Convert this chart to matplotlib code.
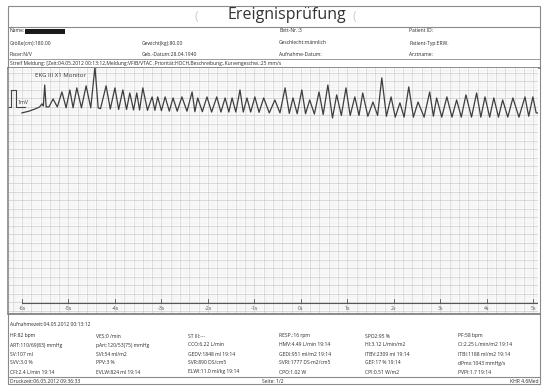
import numpy as np
import matplotlib
matplotlib.use('Agg')
import matplotlib.pyplot as plt
from matplotlib.patches import Rectangle

plt.rcParams['font.family'] = ['Open Sans', 'DejaVu Sans']

# header fields (label, value)
header_col1 = ['Name:', 'Größe(cm):180.00', 'Pacer:N/V']
header_col2 = ['', 'Gewicht(kg):80.00', 'Geb.-Datum:28.04.1940']
header_col3 = ['Bett-Nr.:3', 'Geschlecht:männlich', 'Aufnahme-Datum:']
header_col4 = ['Patient ID:', 'Patient-Typ:ERW.', 'Arztname:']
strip_text = ('Streif Meldung: [Zeit:04.05.2012 00:13:12,Meldung:VFIB/VTAC ,Priorität:HOCH,'
              'Beschreibung:,Kurvengeschw.:25 mm/s')

# calibration pulse (s, mV)
cal_t = [-6.30, -6.24, -6.24, -6.13, -6.13, -5.94]
cal_mv = [0, 0, 1, 1, 0, 0]

# ECG lead III trace, vertices (s, mV)
ecg_t = [-6.00, -5.85, -5.72, -5.62, -5.57, -5.54, -5.51, -5.48, -5.42,
         -5.33, -5.24, -5.14, -5.05, -4.97, -4.90, -4.82, -4.72, -4.62, -4.52,
         -4.43, -4.36, -4.31, -4.19, -4.10, -4.00, -3.92, -3.83, -3.75, -3.68,
         -3.60, -3.53, -3.47, -3.40, -3.30, -3.20, -3.14, -3.08, -3.00, -2.92,
         -2.83, -2.75, -2.66, -2.56, -2.45, -2.34, -2.28, -2.22, -2.12, -2.02,
         -1.92, -1.81, -1.72, -1.63, -1.55, -1.48, -1.40, -1.31, -1.24, -1.16,
         -1.08, -0.99, -0.90, -0.80, -0.68, -0.56, -0.45, -0.34, -0.25, -0.17,
         -0.08, 0.02, 0.10, 0.19, 0.29, 0.39, 0.48, 0.58, 0.68, 0.77,
         0.87, 0.97, 1.06, 1.16, 1.25, 1.33, 1.44, 1.55, 1.65, 1.74,
         1.84, 1.94, 2.03, 2.13, 2.22, 2.32, 2.42, 2.52, 2.65, 2.77,
         2.85, 2.92, 3.03, 3.14, 3.25, 3.35, 3.45, 3.55, 3.67, 3.78,
         3.87, 3.96, 4.06, 4.15, 4.25, 4.34, 4.45, 4.56, 4.69, 4.82,
         4.90, 4.99, 5.06, 5.10]
ecg_mv = [-0.35, -0.25, -0.12, 0.00, 0.18, 0.05, 1.29, 0.00, 0.00,
          0.47, 0.00, 0.88, -0.05, 1.00, -0.05, 1.12, -0.05, 1.24, -0.05,
          2.35, -0.06, -0.10, 1.24, -0.12, 1.12, -0.15, 1.00, -0.15, 0.82,
          -0.18, 0.82, -0.18, 1.12, -0.20, 0.59, -0.20, 0.59, -0.22, 0.59,
          -0.25, 0.53, -0.25, 0.59, -0.25, 0.88, -0.28, 0.53, -0.28, 0.59,
          -0.30, 0.59, -0.30, 0.53, -0.30, 0.53, -0.30, 1.00, -0.30, 0.53,
          -0.30, 0.59, -0.32, 0.53, -0.35, 0.41, -0.35, 1.12, -0.38, 0.53,
          -0.40, 1.00, -0.40, 0.41, -0.42, 0.88, -0.45, 1.29, -0.65, 0.71,
          -0.50, 1.12, -0.50, 0.59, -0.50, 0.82, -0.55, 0.29, -0.50, 1.71,
          -0.55, 0.59, -0.60, 0.24, -0.60, 1.18, -0.60, 0.29, -0.60, 0.88,
          -0.55, 0.53, -0.60, 0.59, -0.60, 0.41, -0.60, 0.71, -0.60, 0.82,
          -0.60, 0.59, -0.60, 0.53, -0.60, 0.41, -0.60, 0.53, -0.60, 0.59,
          -0.55, 0.59, -0.35, -0.35]

tick_secs = [-6, -5, -4, -3, -2, -1, 0, 1, 2, 3, 4, 5]
tick_labels = ['-6s', '-5s', '-4s', '-3s', '-2s', '-1s', '0s', '1s', '2s', '3s', '4s', '5s']

# vital parameters, one list per column
aufnahme = 'Aufnahmezeit:04.05.2012 00:13:12'
vitals_col1 = ['HF:82 bpm', 'ART:110/69(83) mmHg', 'SV:107 ml', 'SVV:3.0 %', 'CFI:2.4 L/min 19:14']
vitals_col2 = ['VES:0 /min', 'pArt:120/53(75) mmHg', 'SVI:54 ml/m2', 'PPV:3 %', 'EVLW:824 ml 19:14']
vitals_col3 = ['ST III:---', 'CCO:6.22 L/min', 'GEDV:1848 ml 19:14', 'SVR:890 DS/cm5', 'ELWI:11.0 ml/kg 19:14']
vitals_col4 = ['RESP.:16 rpm', 'HMV:4.49 L/min 19:14', 'GEDI:951 ml/m2 19:14', 'SVRI:1777 DS·m2/cm5', 'CPO:1.02 W']
vitals_col5 = ['SPO2:95 %', 'HI:3.12 L/min/m2', 'ITBV:2309 ml 19:14', 'GEF:17 % 19:14', 'CPI:0.51 W/m2']
vitals_col6 = ['PF:58 bpm', 'CI:2.25 L/min/m2 19:14', 'ITBI:1188 ml/m2 19:14', 'dPmx:1043 mmHg/s', 'PVPI:1.7 19:14']
footer = ['Druckzeit:06.05.2012 09:36:33', 'Seite: 1/2', 'KHR 4.6Med']

W, H = 544, 386
fig = plt.figure(figsize=(W / 100, H / 100), dpi=100)

# page layer in pixel units
page = fig.add_axes([0, 0, 1, 1])
page.set_xlim(0, W)
page.set_ylim(H, 0)
page.axis('off')

txt = dict(fontsize=3.6, color='#2a2a2a', va='center', ha='left')
line_c = '#8a8a8a'

page.add_patch(Rectangle((8, 6), 532, 378, fill=False, ec=line_c, lw=0.8))
page.plot([8, 540], [27, 27], color=line_c, lw=0.8)
page.plot([8, 540], [59, 59], color=line_c, lw=0.6)
page.plot([8, 540], [68, 68], color='#777777', lw=1.2)
page.plot([8, 540], [314, 314], color='#777777', lw=1.2)
page.plot([8, 540], [377, 377], color=line_c, lw=0.8)

page.text(287, 15, 'Ereignisprüfung', fontsize=11.5, color='#333333', ha='center', va='center')
page.text(196, 16, '(', fontsize=9, color='#cfcfcf', ha='center', va='center')
page.text(354, 16, '(', fontsize=9, color='#cfcfcf', ha='center', va='center')

rows_y = [31, 43, 54]
for col, x in zip([header_col1, header_col2, header_col3, header_col4], [10, 142, 279, 409]):
    for s, y in zip(col, rows_y):
        if s:
            page.text(x, y, s, **txt)
page.add_patch(Rectangle((25, 29), 40, 4.5, fc='#1a1a1a', ec='none'))
page.text(10, 63.5, strip_text, **txt)

page.text(10, 325, aufnahme, **txt)
vit_y = [336, 345, 354, 363, 372]
for col, x in zip([vitals_col1, vitals_col2, vitals_col3, vitals_col4, vitals_col5, vitals_col6],
                  [10, 96, 188, 279, 365, 458]):
    for s, y in zip(col, vit_y):
        page.text(x, y, s, **txt)
page.text(10, 381.5, footer[0], **txt)
page.text(262, 381.5, footer[1], **txt)
page.text(538, 381.5, footer[2], **dict(txt, ha='right'))

# ECG strip
ax = fig.add_axes([8 / W, 1 - 313 / H, 530 / W, 245 / H])
ax.set_xlim(-6.30, 5.10)
ax.set_ylim(-12.12, 2.29)
ax.set_xticks(np.arange(-6.2, 5.11, 0.2))
ax.set_xticks(np.arange(-6.28, 5.11, 0.04), minor=True)
ax.set_yticks(np.arange(-12.0, 2.3, 0.5))
ax.set_yticks(np.arange(-12.1, 2.3, 0.1), minor=True)
ax.grid(which='major', color='#c6c6c6', lw=0.45)
ax.grid(which='minor', color='#ececec', lw=0.3)
ax.tick_params(which='both', length=0, labelbottom=False, labelleft=False)
for sp in ax.spines.values():
    sp.set_visible(False)
ax.spines['left'].set_visible(True)
ax.spines['left'].set_color('#888888')
ax.spines['left'].set_linewidth(1.2)
ax.set_axisbelow(True)

ax.plot(cal_t, cal_mv, color='#444444', lw=0.8)
ax.plot(ecg_t, ecg_mv, color='#3e3e3e', lw=0.9, solid_joinstyle='round')
ax.text(-5.72, 1.85, 'EKG III X1 Monitor', fontsize=4.3, color='#333333', va='center')
ax.text(-6.10, 0.25, '1mV', fontsize=3.8, color='#333333', va='center')

# time axis
ax.plot([tick_secs[0], 5.10], [-11.53, -11.53], color='#555555', lw=0.8)
for s, lab in zip(tick_secs, tick_labels):
    ax.plot([s, s], [-11.53, -11.29], color='#555555', lw=0.6)
    ax.text(s, -11.86, lab, fontsize=3.8, color='#555555', ha='center', va='center')

fig.savefig('out.png', dpi=100)
